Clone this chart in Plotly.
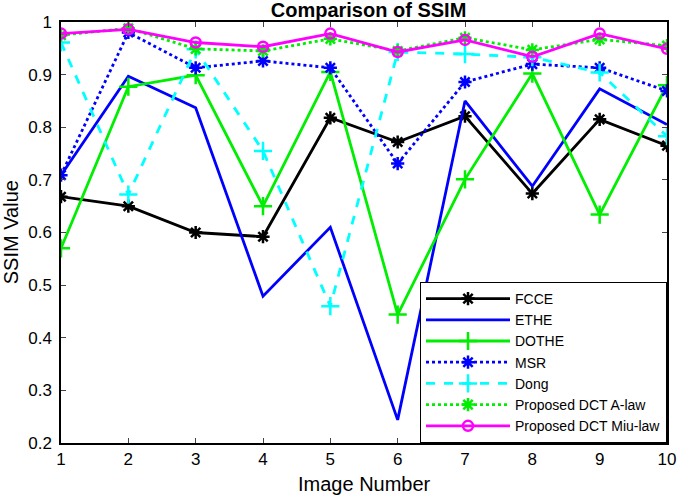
import plotly.graph_objects as go

image_numbers = [1, 2, 3, 4, 5, 6, 7, 8, 9, 10]
fcce = [0.668, 0.650, 0.600, 0.592, 0.818, 0.772, 0.821, 0.674, 0.815, 0.765]
ethe = [0.709, 0.897, 0.837, 0.479, 0.610, 0.244, 0.850, 0.688, 0.873, 0.805]
dothe = [0.570, 0.877, 0.899, 0.650, 0.905, 0.444, 0.701, 0.902, 0.634, 0.880]
msr = [0.709, 0.980, 0.913, 0.926, 0.913, 0.731, 0.886, 0.920, 0.913, 0.869]
dong = [0.961, 0.672, 0.948, 0.755, 0.460, 0.943, 0.939, 0.933, 0.904, 0.783]
alaw = [0.975, 0.988, 0.949, 0.945, 0.968, 0.945, 0.970, 0.947, 0.967, 0.955]
miulaw = [0.978, 0.986, 0.961, 0.953, 0.978, 0.943, 0.966, 0.934, 0.978, 0.949]

series = [
    ("FCCE", fcce, "#000000", "solid", "asterisk-open", 11),
    ("ETHE", ethe, "#0000ff", "solid", None, 0),
    ("DOTHE", dothe, "#00ee00", "solid", "cross-thin-open", 13),
    ("MSR", msr, "#0000ff", "dot", "asterisk-open", 11),
    ("Dong", dong, "#00ffff", "dash", "cross-thin-open", 13),
    ("Proposed DCT A-law", alaw, "#00ee00", "dot", "asterisk-open", 11),
    ("Proposed DCT Miu-law", miulaw, "#ff00ff", "solid", "circle-open", 10),
]

fig = go.Figure()
for name, vals, color, dash, sym, size in series:
    kw = {}
    if sym:
        kw["marker"] = dict(symbol=sym, size=size, color=color,
                            line=dict(width=2.5, color=color))
        mode = "lines+markers"
    else:
        mode = "lines"
    fig.add_trace(go.Scatter(x=image_numbers, y=vals, name=name, mode=mode,
                             line=dict(color=color, width=2.8, dash=dash), **kw))

W, H = 685, 496
ML, MR, MT, MB = 61, 9, 22, 53
PW, PH = W - ML - MR, H - MT - MB
fig.update_layout(
    width=W, height=H,
    margin=dict(l=ML, r=MR, t=MT, b=MB),
    paper_bgcolor="white", plot_bgcolor="white",
    font=dict(family="Liberation Sans, Arial, sans-serif", size=17, color="#000000"),
    title=dict(text="<b>Comparison of SSIM</b>", x=0.538, xanchor="center",
               yref="container", y=1 - 10 / H, yanchor="middle", font=dict(size=20)),
    showlegend=True,
    legend=dict(x=1, y=0, xanchor="right", yanchor="bottom",
                bordercolor="#000000", borderwidth=1, bgcolor="white",
                font=dict(size=14), tracegroupgap=0, itemwidth=84),
    annotations=[
        dict(text="Image Number", xref="paper", yref="paper",
             x=0.5, y=-(484 - (H - MB)) / PH, xanchor="center", yanchor="middle",
             showarrow=False, font=dict(size=20)),
        dict(text="SSIM Value", xref="paper", yref="paper", textangle=-90,
             x=-(ML - 10) / PW, y=0.5, xanchor="center", yanchor="middle",
             showarrow=False, font=dict(size=20)),
    ],
)
fig.update_xaxes(range=[1, 10], tickvals=image_numbers, ticks="inside", ticklen=5,
                 showline=True, linecolor="#000000", linewidth=1.5, mirror="ticks",
                 showgrid=False, zeroline=False)
fig.update_yaxes(range=[0.2, 1.0], dtick=0.1, ticks="inside", ticklen=5,
                 tickformat=".1~f", ticklabelstandoff=4,
                 showline=True, linecolor="#000000", linewidth=1.5, mirror="ticks",
                 showgrid=False, zeroline=False)

fig.write_html("out.html", config={"displayModeBar": False},
               post_script="document.body.style.margin='0';document.body.style.overflow='hidden';")
